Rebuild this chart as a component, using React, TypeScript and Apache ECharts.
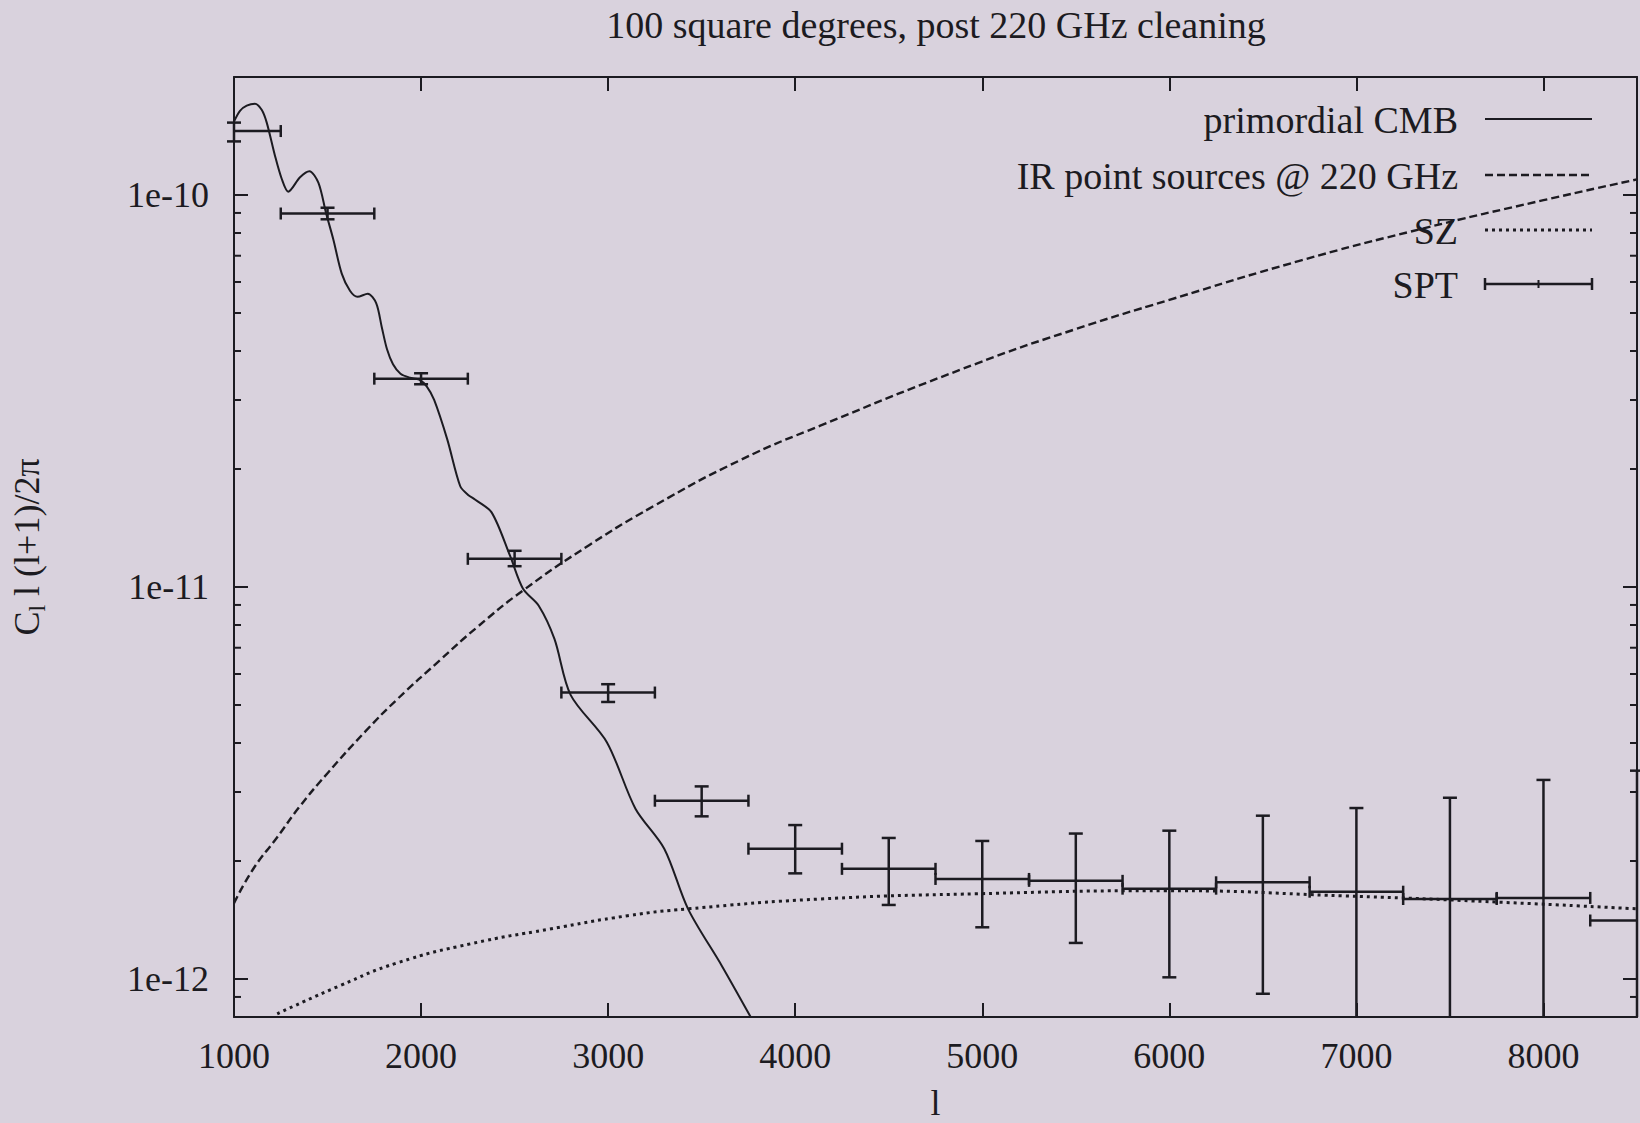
import { useEffect, useRef } from 'react';
import * as echarts from 'echarts';

// ---- look ----
const INK = '#1c1b21';
const PAPER = '#d9d2dd';
const SERIF = '"Liberation Serif", "Times New Roman", Times, serif';

// ---- texts ----
const chartTitle = '100 square degrees, post 220 GHz cleaning';
const xAxisName = 'l';
const yAxisName = '{c|C}{sub|l} l (l+1)/2π';
const legendLabels = ['primordial CMB', 'IR point sources @ 220 GHz', 'SZ', 'SPT'];

// ---- axes ----
const xRange = [1000, 8500];
const xTickValues = [1000, 2000, 3000, 4000, 5000, 6000, 7000, 8000];
const xTickLabels = ['1000', '2000', '3000', '4000', '5000', '6000', '7000', '8000'];
const yRange = [8e-13, 2e-10];
const yTickValues = [1e-12, 1e-11, 1e-10];
const yTickLabels = ['1e-12', '1e-11', '1e-10'];
const yMinorTickValues = [
  9e-13,
  2e-12, 3e-12, 4e-12, 5e-12, 6e-12, 7e-12, 8e-12, 9e-12,
  2e-11, 3e-11, 4e-11, 5e-11, 6e-11, 7e-11, 8e-11, 9e-11,
];

// ---- primordial CMB, l(l+1)C_l/2π ----
const cmbEll = [
  1000, 1032, 1068, 1112, 1148, 1175, 1219, 1255, 1290, 1353, 1403, 1451, 1492, 1531,
  1576, 1620, 1660, 1715, 1760, 1790, 1818, 1850, 1890, 1940, 1990, 2030, 2070, 2140,
  2209, 2250, 2290, 2377, 2476, 2545, 2629, 2713, 2800, 2993, 3146, 3300, 3427, 3608, 3762,
];
const cmbPower = [
  1.54e-10, 1.64e-10, 1.69e-10, 1.71e-10, 1.65e-10, 1.53e-10, 1.26e-10, 1.10e-10, 1.02e-10,
  1.11e-10, 1.15e-10, 1.075e-10, 9.0e-11, 7.7e-11,
  6.3e-11, 5.7e-11, 5.5e-11, 5.6e-11, 5.3e-11, 4.6e-11, 4.04e-11, 3.7e-11, 3.5e-11, 3.42e-11,
  3.38e-11, 3.25e-11, 3.0e-11, 2.38e-11,
  1.81e-11, 1.72e-11, 1.67e-11, 1.55e-11, 1.2e-11, 9.9e-12, 8.96e-12, 7.37e-12, 5.3e-12,
  4.02e-12, 2.72e-12, 2.15e-12, 1.51e-12, 1.08e-12, 8.0e-13,
];

// ---- IR point sources at 220 GHz ----
const irEll = [
  1000, 1100, 1231, 1350, 1500, 1706, 1874, 2100, 2300, 2545, 2900, 3245, 3700, 4134,
  4973, 5500, 6000, 6700, 7350, 8000, 8500,
];
const irPower = [
  1.56e-12, 1.90e-12, 2.30e-12, 2.75e-12, 3.35e-12, 4.30e-12, 5.18e-12, 6.5e-12, 7.9e-12,
  9.8e-12, 1.28e-11, 1.61e-11, 2.1e-11, 2.58e-11,
  3.72e-11, 4.55e-11, 5.4e-11, 6.8e-11, 8.2e-11, 9.7e-11, 1.096e-10,
];

// ---- SZ ----
const szEll = [1231, 1567, 1874, 2266, 2684, 3104, 3427, 4134, 4973, 5979, 6930, 7770, 8500];
const szPower = [
  8.15e-13, 9.62e-13, 1.10e-12, 1.23e-12, 1.34e-12, 1.45e-12, 1.51e-12, 1.60e-12, 1.65e-12,
  1.68e-12, 1.63e-12, 1.57e-12, 1.51e-12,
];

// ---- SPT band powers (bin centre, value, 1σ range; null = below the plot) ----
const sptEll = [1000, 1500, 2000, 2500, 3000, 3500, 4000, 4500, 5000, 5500, 6000, 6500, 7000, 7500, 8000, 8500];
const sptPower = [
  1.456e-10, 8.97e-11, 3.40e-11, 1.18e-11, 5.38e-12, 2.85e-12, 2.15e-12, 1.91e-12, 1.80e-12,
  1.78e-12, 1.70e-12, 1.765e-12, 1.67e-12, 1.60e-12, 1.61e-12, 1.41e-12,
];
const sptUpper = [
  1.53e-10, 9.28e-11, 3.51e-11, 1.237e-11, 5.65e-12, 3.10e-12, 2.47e-12, 2.29e-12, 2.25e-12,
  2.35e-12, 2.39e-12, 2.61e-12, 2.73e-12, 2.90e-12, 3.22e-12, 3.4e-12,
];
const sptLower = [
  1.37e-10, 8.67e-11, 3.29e-11, 1.13e-11, 5.09e-12, 2.60e-12, 1.86e-12, 1.545e-12, 1.355e-12,
  1.236e-12, 1.01e-12, 9.17e-13, null, null, null, null,
];
const sptBinHalfWidth = 250;

const zip = (a: number[], b: number[]) => a.map((v, i) => [v, b[i]]);

const labelFor = (values: number[], labels: string[], v: number, log: boolean) => {
  const i = values.findIndex((t) =>
    log ? Math.abs(Math.log10(t) - Math.log10(v)) < 1e-6 : Math.abs(t - v) < 1e-6
  );
  return i >= 0 ? labels[i] : '';
};

function buildOption() {
  const tick = { show: true, inside: true, length: 14, lineStyle: { color: INK, width: 2 } };
  const line = { show: true, lineStyle: { color: INK, width: 2 } };
  const tickFont = { fontFamily: SERIF, fontSize: 36, color: INK };

  // gnuplot-style key, drawn at the top right inside the frame
  const keyRight = 1458;
  const keyX0 = 1485;
  const keyX1 = 1592;
  const keyRows = [119, 175, 230, 284];
  const keyText = (i: number) => ({
    type: 'text',
    x: keyRight,
    y: keyRows[i] + 1,
    style: {
      text: legendLabels[i],
      fontFamily: SERIF,
      fontSize: 38,
      fill: INK,
      align: 'right',
      verticalAlign: 'middle',
      textAlign: 'right',
      textVerticalAlign: 'middle',
    },
  });
  const keyLine = (i: number, dash: number[] | null, w: number) => ({
    type: 'line',
    shape: { x1: keyX0, y1: keyRows[i], x2: keyX1, y2: keyRows[i] },
    style: { stroke: INK, lineWidth: w, lineDash: dash || undefined },
  });
  const ySpt = keyRows[3];
  const keyXm = (keyX0 + keyX1) / 2;
  const graphic = [
    keyText(0), keyLine(0, null, 2),
    keyText(1), keyLine(1, [8, 4], 2.4),
    keyText(2), keyLine(2, [3, 4], 3),
    keyText(3), keyLine(3, null, 2.5),
    { type: 'line', shape: { x1: keyX0, y1: ySpt - 6, x2: keyX0, y2: ySpt + 6 }, style: { stroke: INK, lineWidth: 2.5 } },
    { type: 'line', shape: { x1: keyX1, y1: ySpt - 6, x2: keyX1, y2: ySpt + 6 }, style: { stroke: INK, lineWidth: 2.5 } },
    { type: 'line', shape: { x1: keyXm, y1: ySpt - 4, x2: keyXm, y2: ySpt + 4 }, style: { stroke: INK, lineWidth: 2 } },
  ];

  return {
    animation: false,
    backgroundColor: PAPER,
    title: {
      text: chartTitle,
      left: 936,
      top: 6,
      padding: 0,
      textAlign: 'center',
      textStyle: { fontFamily: SERIF, fontSize: 38, fontWeight: 'normal', color: INK },
    },
    grid: {
      left: 234,
      right: 3,
      top: 77,
      bottom: 106,
      containLabel: false,
      outerBoundsMode: 'none',
    },
    xAxis: [
      {
        type: 'value',
        position: 'bottom',
        min: xRange[0],
        max: xRange[1],
        interval: 1000,
        axisLine: line,
        axisTick: tick,
        splitLine: { show: false },
        axisLabel: {
          ...tickFont,
          margin: 21,
          showMaxLabel: false,
          formatter: (v: number) => labelFor(xTickValues, xTickLabels, v, false),
        },
        name: xAxisName,
        nameLocation: 'middle',
        nameGap: 68,
        nameTextStyle: { fontFamily: SERIF, fontSize: 36, lineHeight: 36, color: INK },
      },
      {
        type: 'value',
        position: 'top',
        min: xRange[0],
        max: xRange[1],
        interval: 1000,
        axisLine: line,
        axisTick: tick,
        splitLine: { show: false },
        axisLabel: { show: false },
      },
    ],
    yAxis: [
      {
        type: 'log',
        logBase: 10,
        position: 'left',
        min: yRange[0],
        max: yRange[1],
        axisLine: line,
        axisTick: tick,
        splitLine: { show: false },
        minorTick: { show: false },
        axisLabel: {
          ...tickFont,
          margin: 25,
          showMinLabel: false,
          showMaxLabel: false,
          formatter: (v: number) => labelFor(yTickValues, yTickLabels, v, true),
        },
        name: yAxisName,
        nameLocation: 'middle',
        nameRotate: 90,
        nameGap: 185,
        nameTextStyle: {
          fontFamily: SERIF,
          fontSize: 36,
          lineHeight: 44,
          color: INK,
          rich: {
            c: { fontFamily: SERIF, fontSize: 36, lineHeight: 44, color: INK },
            sub: { fontFamily: SERIF, fontSize: 24, lineHeight: 24, verticalAlign: 'bottom', color: INK },
          },
        },
      },
      {
        type: 'log',
        logBase: 10,
        position: 'right',
        min: yRange[0],
        max: yRange[1],
        axisLine: line,
        axisTick: tick,
        splitLine: { show: false },
        axisLabel: { show: false },
      },
    ],
    graphic,
    series: [
      {
        name: legendLabels[0],
        type: 'line',
        xAxisIndex: 0,
        yAxisIndex: 0,
        data: zip(cmbEll, cmbPower),
        showSymbol: false,
        symbol: 'none',
        smooth: 0.3,
        lineStyle: { color: INK, width: 2 },
        silent: true,
      },
      {
        name: legendLabels[1],
        type: 'line',
        xAxisIndex: 0,
        yAxisIndex: 0,
        data: zip(irEll, irPower),
        showSymbol: false,
        symbol: 'none',
        smooth: 0.5,
        lineStyle: { color: INK, width: 2.4, type: [8, 4] },
        silent: true,
      },
      {
        name: legendLabels[2],
        type: 'line',
        xAxisIndex: 0,
        yAxisIndex: 0,
        data: zip(szEll, szPower),
        showSymbol: false,
        symbol: 'none',
        smooth: 0.5,
        lineStyle: { color: INK, width: 3, type: [3, 4] },
        silent: true,
      },
      {
        name: legendLabels[3],
        type: 'custom',
        xAxisIndex: 0,
        yAxisIndex: 0,
        data: zip(sptEll, sptPower),
        encode: { x: 0, y: 1 },
        clip: false,
        silent: true,
        renderItem: (params: any, api: any) => {
          const i = params.dataIndex;
          const ell = sptEll[i];
          const v = sptPower[i];
          const loEll = ell - sptBinHalfWidth;
          const hiEll = ell + sptBinHalfWidth;
          const lo = Math.max(loEll, xRange[0]);
          const hi = Math.min(hiEll, xRange[1]);
          const up = Math.min(sptUpper[i], yRange[1]);
          const low = sptLower[i];
          const dn = low == null ? yRange[0] : Math.max(low, yRange[0]);
          const pL = api.coord([lo, v]);
          const pR = api.coord([hi, v]);
          const pU = api.coord([ell, up]);
          const pD = api.coord([ell, dn]);
          const st = { stroke: INK, lineWidth: 2.5 };
          const children: any[] = [
            { type: 'line', shape: { x1: pL[0], y1: pL[1], x2: pR[0], y2: pR[1] }, style: st },
            { type: 'line', shape: { x1: pU[0], y1: pU[1], x2: pD[0], y2: pD[1] }, style: st },
            { type: 'line', shape: { x1: pU[0] - 7, y1: pU[1], x2: pU[0] + 7, y2: pU[1] }, style: st },
          ];
          if (loEll >= xRange[0]) {
            children.push({ type: 'line', shape: { x1: pL[0], y1: pL[1] - 6, x2: pL[0], y2: pL[1] + 6 }, style: st });
          }
          if (hiEll <= xRange[1]) {
            children.push({ type: 'line', shape: { x1: pR[0], y1: pR[1] - 6, x2: pR[0], y2: pR[1] + 6 }, style: st });
          }
          if (low != null) {
            children.push({ type: 'line', shape: { x1: pD[0] - 7, y1: pD[1], x2: pD[0] + 7, y2: pD[1] }, style: st });
          }
          return { type: 'group', children };
        },
      },
      {
        // minor ticks of the logarithmic axis, on both vertical borders
        type: 'custom',
        xAxisIndex: 0,
        yAxisIndex: 0,
        data: yMinorTickValues.map((v) => [xRange[0], v]),
        encode: { x: 0, y: 1 },
        clip: false,
        silent: true,
        renderItem: (_params: any, api: any) => {
          const v = api.value(1);
          const a = api.coord([xRange[0], v]);
          const b = api.coord([xRange[1], v]);
          const st = { stroke: INK, lineWidth: 2 };
          return {
            type: 'group',
            children: [
              { type: 'line', shape: { x1: a[0], y1: a[1], x2: a[0] + 7, y2: a[1] }, style: st },
              { type: 'line', shape: { x1: b[0] - 7, y1: b[1], x2: b[0], y2: b[1] }, style: st },
            ],
          };
        },
      },
    ],
  };
}

export default function App() {
  const ref = useRef<HTMLDivElement>(null);
  useEffect(() => {
    if (!ref.current) return;
    const chart = echarts.init(ref.current, null, { renderer: 'svg' });
    chart.setOption(buildOption() as any);
    return () => chart.dispose();
  }, []);
  return (
    <div
      ref={ref}
      style={{ position: 'fixed', left: 0, top: 0, width: 1640, height: 1123, background: PAPER }}
    />
  );
}
